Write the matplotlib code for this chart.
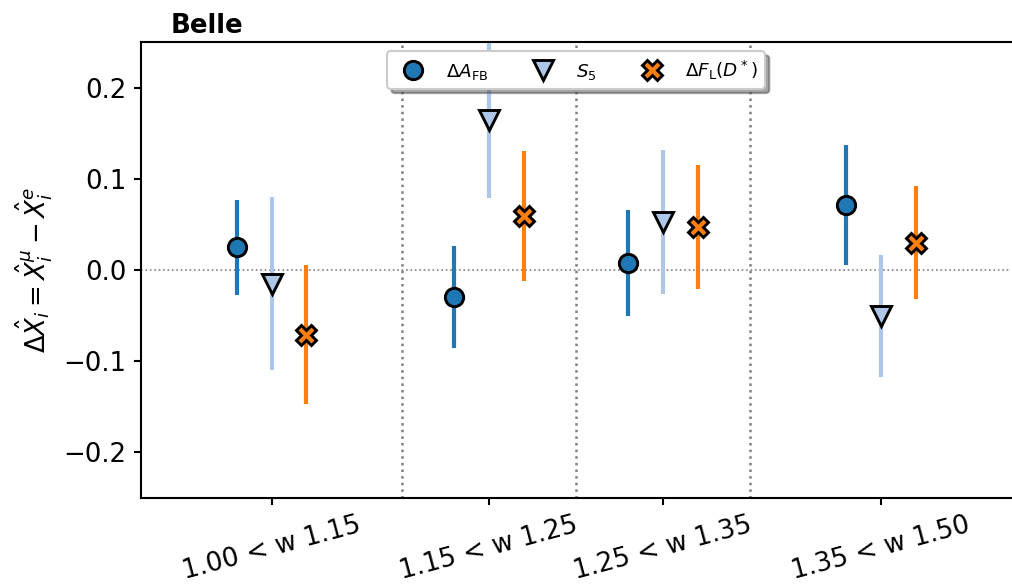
import numpy as np
import matplotlib
matplotlib.use('Agg')
import matplotlib.pyplot as plt

# bins in w and their centres
bin_labels = ['1.00 < w 1.15', '1.15 < w 1.25', '1.25 < w 1.35', '1.35 < w 1.50']
w_centers = [1.075, 1.2, 1.3, 1.425]
bin_edges = [1.15, 1.25, 1.35]

# muon - electron differences with uncertainties
dafb = [0.025, -0.030, 0.008, 0.071]
dafb_err = [0.052, 0.056, 0.058, 0.066]
s5 = [-0.015, 0.165, 0.053, -0.050]
s5_err = [0.095, 0.086, 0.079, 0.067]
dfl = [-0.071, 0.059, 0.047, 0.030]
dfl_err = [0.076, 0.071, 0.068, 0.062]

plt.rcParams['font.size'] = 12.5
plt.rcParams['axes.linewidth'] = 1.0
plt.rcParams['xtick.major.width'] = 1.0
plt.rcParams['ytick.major.width'] = 1.0

fig = plt.figure(figsize=(1012 / 150, 585 / 150), dpi=150)
ax = fig.add_axes([0.1393, 0.1487, 0.8600, 0.7795])

x = np.array(w_centers)
series = [
    (dafb, dafb_err, -0.02, '#1f77b4', 'o', 8.8, r'$\Delta A_{\mathrm{FB}}$'),
    (s5, s5_err, 0.0, '#aec7e8', 'v', 9.8, r'$S_5$'),
    (dfl, dfl_err, 0.02, '#ff7f0e', 'X', 9.8, r'$\Delta F_{\mathrm{L}}(D^*)$'),
]

ax.axhline(0, color='grey', ls=':', lw=0.8, zorder=1)
for edge in bin_edges:
    ax.axvline(edge, color='grey', ls=':', lw=1.2, zorder=1)

handles = []
for vals, errs, off, col, mk, ms, lab in series:
    ax.errorbar(x + off, vals, yerr=errs, fmt='none', ecolor=col,
                elinewidth=2, zorder=2)
    h, = ax.plot(x + off, vals, ls='none', marker=mk, ms=ms, mfc=col,
                 mec='black', mew=1.4, zorder=3, label=lab)
    handles.append(h)

ax.set_xlim(1.0, 1.5)
ax.set_ylim(-0.25, 0.25)
ax.set_xticks(w_centers)
ax.set_xticklabels(bin_labels, rotation=15)
ax.set_yticks([-0.2, -0.1, 0.0, 0.1, 0.2])
ax.set_ylabel(r'$\Delta\hat{X}_i = \hat{X}_i^{\mu} - \hat{X}_i^{e}$')
ax.spines['right'].set_visible(False)

ax.text(0.034, 1.02, 'Belle', transform=ax.transAxes, fontweight='bold',
        fontsize=12.5, va='baseline', ha='left')

ax.legend(handles=handles, loc='upper center', ncol=3, fontsize=8.8,
          shadow=True)

fig.savefig('out.png', dpi=150)
